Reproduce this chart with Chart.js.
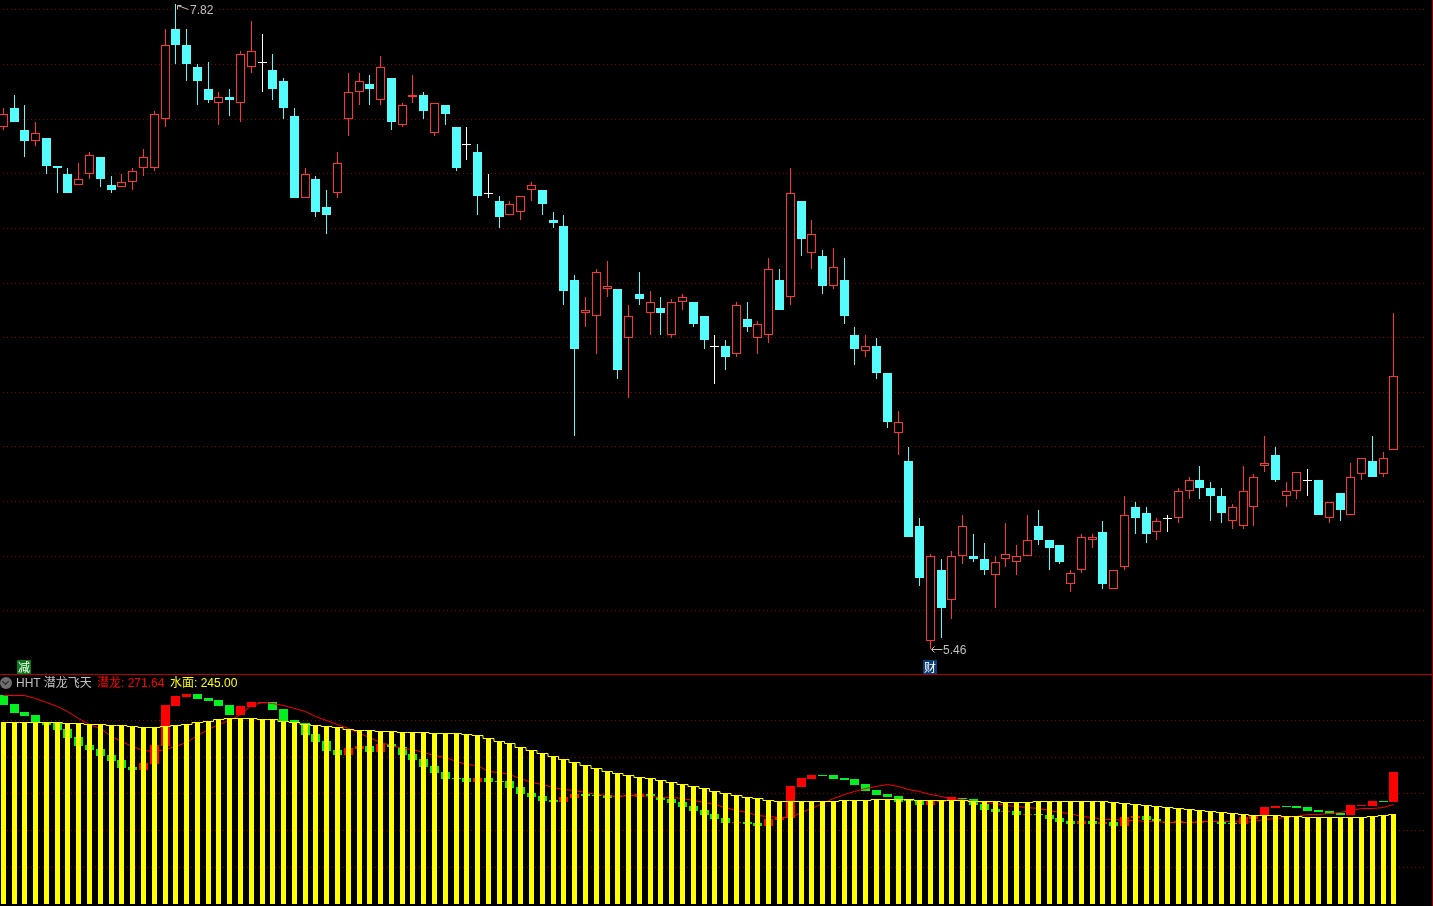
<!DOCTYPE html>
<html>
<head>
<meta charset="utf-8">
<title>HHT 潜龙飞天</title>
<script src="https://cdn.jsdelivr.net/npm/chart.js@4/dist/chart.umd.min.js"></script>
<style>
html,body{margin:0;padding:0;background:#000;width:1433px;height:906px;overflow:hidden}
#page{position:relative;width:1433px;height:906px;background:#000;font:12px "Liberation Sans","Noto Sans CJK SC",sans-serif}
canvas{position:absolute;left:0;display:block}
#top{top:0}
#bottom{top:675px}
#hline{position:absolute;left:0;top:674px;width:1433px;height:1px;background:#b40000}
#vline{position:absolute;left:1432px;top:0;width:1px;height:906px;background:#8c0000}
.t{position:absolute;white-space:pre;line-height:14px}
.badge{position:absolute;width:14px;height:14px;line-height:14px;text-align:center;color:#fff;font:12px/14px "Noto Sans CJK SC",sans-serif}
#icon{position:absolute;left:0;top:677px;width:12px;height:12px;border-radius:50%;background:#6e6e6e}
#icon:after{content:"";position:absolute;left:3px;top:2px;width:4px;height:4px;border-right:1.5px solid #222;border-bottom:1.5px solid #222;transform:rotate(45deg)}
</style>
</head>
<body>
<div id="page">
<canvas id="top" width="1433" height="674"></canvas>
<canvas id="bottom" width="1433" height="231"></canvas>
<div id="hline"></div>
<div id="vline"></div>
<div class="badge" style="left:17px;top:660px;background:#0a7a14">减</div>
<div class="badge" style="left:923px;top:660px;background:#0a3d78">财</div>
<div id="icon"></div>
<div class="t" style="left:16px;top:676px;color:#c0c0c0">HHT 潜龙飞天</div>
<div class="t" style="left:97px;top:676px;color:#ff0000">潜龙: 271.64</div>
<div class="t" style="left:170px;top:676px;color:#ffff00">水面: 245.00</div>
</div>
<script>
const priceOpen = [7.37,7.44,7.36,7.32,7.33,7.23,7.20,7.16,7.20,7.26,7.16,7.15,7.17,7.22,7.22,7.40,7.73,7.67,7.59,7.51,7.46,7.48,7.46,7.59,7.61,7.58,7.54,7.41,7.11,7.18,7.08,7.13,7.40,7.50,7.53,7.47,7.55,7.38,7.48,7.49,7.35,7.45,7.37,7.31,7.28,7.13,7.10,7.05,7.06,7.14,7.14,7.03,7.01,6.81,6.69,6.68,6.78,6.78,6.60,6.76,6.69,6.71,6.61,6.73,6.73,6.68,6.57,6.57,6.54,6.67,6.60,6.61,6.81,6.75,7.10,6.91,6.90,6.79,6.81,6.61,6.55,6.57,6.47,6.25,6.15,5.91,5.49,5.75,5.64,5.80,5.80,5.79,5.73,5.79,5.78,5.80,5.91,5.86,5.84,5.70,5.75,5.86,5.89,5.68,5.76,5.98,5.96,5.89,5.94,5.94,6.04,6.08,6.05,6.02,5.93,5.91,5.98,6.13,6.17,6.02,6.04,6.08,6.08,5.94,6.03,5.95,6.10,6.15,6.10,6.19];
const priceHigh = [7.44,7.49,7.45,7.39,7.33,7.23,7.22,7.24,7.28,7.26,7.19,7.20,7.22,7.29,7.43,7.73,7.82,7.73,7.60,7.61,7.50,7.51,7.65,7.76,7.71,7.64,7.55,7.44,7.22,7.19,7.14,7.28,7.57,7.57,7.56,7.63,7.55,7.46,7.56,7.50,7.46,7.45,7.37,7.37,7.31,7.20,7.12,7.10,7.12,7.17,7.14,7.06,7.05,6.83,6.75,6.85,6.88,6.78,6.72,6.84,6.77,6.75,6.74,6.76,6.73,6.68,6.61,6.59,6.73,6.73,6.66,6.89,6.85,7.22,7.10,7.03,6.92,6.93,6.89,6.64,6.61,6.60,6.47,6.33,6.20,5.94,5.81,5.79,5.82,5.95,5.88,5.85,5.80,5.92,5.84,5.95,5.97,5.86,5.84,5.75,5.88,5.88,5.93,5.75,6.02,6.00,5.98,5.94,5.95,6.05,6.09,6.13,6.07,6.05,5.99,6.13,6.10,6.24,6.20,6.07,6.11,6.12,6.08,6.00,6.03,6.14,6.16,6.24,6.18,6.69];
const priceLow = [7.36,7.39,7.26,7.30,7.20,7.13,7.13,7.16,7.18,7.15,7.13,7.15,7.14,7.19,7.21,7.37,7.60,7.54,7.45,7.46,7.38,7.41,7.39,7.57,7.50,7.47,7.40,7.11,7.11,7.04,6.98,7.11,7.34,7.45,7.45,7.45,7.36,7.37,7.46,7.40,7.34,7.38,7.21,7.25,7.05,7.11,7.00,7.05,7.03,7.10,7.05,7.00,6.72,6.24,6.64,6.54,6.75,6.45,6.38,6.72,6.61,6.61,6.60,6.70,6.64,6.56,6.43,6.48,6.53,6.62,6.54,6.58,6.70,6.72,6.90,6.85,6.76,6.78,6.65,6.50,6.53,6.45,6.27,6.17,5.87,5.69,5.46,5.50,5.57,5.77,5.78,5.73,5.61,5.76,5.73,5.80,5.84,5.75,5.77,5.67,5.74,5.83,5.68,5.68,5.75,5.88,5.85,5.86,5.89,5.92,6.01,6.01,5.93,5.92,5.90,5.90,5.91,6.11,6.07,5.98,6.01,6.02,5.95,5.92,5.93,5.95,6.08,6.09,6.09,6.19];
const priceClose = [7.42,7.39,7.32,7.35,7.23,7.22,7.13,7.18,7.27,7.18,7.14,7.17,7.21,7.26,7.42,7.67,7.67,7.60,7.54,7.47,7.48,7.47,7.64,7.65,7.61,7.51,7.44,7.11,7.20,7.06,7.05,7.24,7.50,7.54,7.51,7.59,7.39,7.45,7.49,7.43,7.46,7.42,7.22,7.31,7.12,7.13,7.04,7.09,7.12,7.16,7.09,7.02,6.77,6.56,6.70,6.84,6.79,6.48,6.68,6.74,6.73,6.69,6.73,6.75,6.65,6.59,6.57,6.53,6.72,6.64,6.65,6.85,6.70,7.13,6.96,6.98,6.79,6.86,6.68,6.56,6.57,6.47,6.29,6.29,5.87,5.72,5.80,5.61,5.80,5.91,5.79,5.75,5.78,5.81,5.80,5.86,5.86,5.83,5.78,5.74,5.87,5.87,5.70,5.75,5.95,5.94,5.88,5.93,5.94,6.04,6.08,6.05,6.02,5.96,5.98,6.04,6.09,6.14,6.08,6.04,6.11,6.08,5.95,6.00,5.97,6.09,6.16,6.09,6.16,6.46];

const waterLevel = [303.0,303.0,303.0,303.0,302.8,302.8,302.3,302.1,301.5,301.5,300.9,300.9,300.4,299.6,299.6,300.2,301.1,301.7,303.0,303.8,304.8,305.2,305.2,305.2,304.6,304.6,303.8,302.8,301.9,300.9,300.2,299.6,298.3,297.7,297.7,297.1,297.1,296.4,296.4,296.4,295.8,295.8,295.8,295.2,294.6,293.1,291.2,289.5,287.4,285.3,283.6,281.8,279.7,278.0,276.1,274.0,272.3,270.8,269.6,268.3,267.7,266.4,265.2,263.9,262.6,261.4,259.5,258.2,257.0,255.7,254.9,253.8,253.0,253.0,253.0,253.0,253.0,253.0,253.6,253.6,253.6,254.2,254.2,254.2,254.2,253.6,253.6,253.6,253.6,253.6,253.0,253.0,253.0,252.3,252.3,252.3,253.0,253.0,253.0,253.0,253.0,253.0,253.0,252.3,251.7,251.1,250.5,249.8,249.2,248.6,247.9,247.3,246.7,246.0,245.4,244.8,244.2,244.2,244.2,243.5,243.5,242.9,242.9,242.9,242.9,242.9,242.9,243.5,244.2,245.0];
const dragonOpen = [319.8,314.3,309.3,307.4,303.0,302.1,298.6,293.5,288.5,286.0,282.2,279.0,274.6,272.7,276.5,287.8,313.0,318.7,320.6,318.1,316.8,313.7,307.4,312.4,315.2,315.6,311.1,304.2,302.1,295.4,291.0,285.3,282.2,286.0,287.8,284.1,289.1,287.4,282.8,279.6,275.2,271.5,267.5,267.7,265.2,267.7,265.6,265.8,262.0,258.2,256.3,253.8,252.6,255.1,257.6,256.8,256.8,256.1,256.1,255.7,257.6,255.7,254.5,252.6,250.0,247.5,245.0,242.5,239.5,239.9,239.3,237.4,241.2,242.7,262.0,267.1,269.6,269.6,267.7,267.1,263.9,260.1,257.6,256.3,253.8,253.2,250.7,253.0,253.6,254.9,254.2,251.3,248.2,246.3,246.9,244.4,245.0,244.4,242.5,240.6,238.7,240.6,238.7,239.9,237.4,242.5,243.7,241.8,240.2,239.5,239.5,240.0,239.9,240.6,239.3,238.7,241.8,243.7,248.8,250.0,250.0,249.4,247.5,246.7,245.6,244.4,250.0,250.0,253.2,252.6];
const dragonClose = [313.7,308.6,306.7,303.0,301.1,297.9,292.9,287.8,285.3,281.5,278.4,274.0,272.7,277.1,288.5,313.7,319.3,320.6,317.4,316.2,313.0,307.4,313.0,315.6,315.6,310.5,303.8,302.1,294.8,290.4,284.7,282.2,286.6,287.8,284.1,289.1,287.2,282.2,279.0,274.6,270.8,267.0,267.0,265.2,267.7,265.2,265.2,261.4,257.6,255.7,253.2,252.6,255.7,257.6,256.3,256.3,255.1,256.5,256.8,257.6,256.3,253.8,251.9,249.4,246.9,244.4,241.8,239.3,239.9,238.7,237.4,241.8,243.1,262.6,267.7,269.6,269.1,267.1,266.4,263.3,259.5,257.0,255.7,252.6,253.2,250.7,253.2,253.4,255.7,254.2,250.7,247.5,246.3,246.7,244.4,244.8,244.4,241.8,239.9,238.7,240.4,238.7,239.9,237.4,243.1,243.7,241.2,240.6,239.3,240.4,240.2,240.2,240.4,238.7,238.7,243.1,244.2,249.4,250.0,249.4,248.8,246.9,246.3,245.0,244.4,250.7,250.5,253.2,252.6,271.64];
const dragonAverage = [319.8,319.8,319.8,317.9,315.6,313.0,310.1,305.7,301.9,299.2,294.2,290.8,288.1,285.1,284.7,285.7,287.8,290.6,294.8,298.3,301.9,304.4,308.0,313.7,315.3,315.1,313.7,311.8,309.9,306.7,304.2,301.7,299.2,296.0,293.3,290.1,288.3,286.8,286.0,284.1,282.4,281.1,278.4,276.5,275.7,272.3,271.3,270.0,267.7,265.2,263.7,262.2,260.9,259.9,258.9,257.8,257.0,256.1,256.8,256.8,256.1,255.7,255.5,255.3,253.8,252.8,251.3,249.2,247.5,246.5,244.6,243.7,243.1,243.3,246.0,248.6,251.7,254.9,257.6,259.7,261.6,262.8,263.7,262.8,260.9,259.3,257.6,256.3,255.3,254.2,253.2,252.3,251.7,250.9,250.2,249.4,248.8,247.5,246.3,245.4,243.7,242.9,242.1,241.6,241.2,241.0,240.6,240.4,240.2,240.2,240.2,240.4,240.4,240.8,240.4,239.9,240.6,241.6,242.3,243.3,243.9,244.8,245.2,245.8,246.3,247.5,248.6,248.8,249.2,251.1];

const priceGrid = [7.8,7.6,7.4,7.2,7.0,6.8,6.6,6.4,6.2,6.0,5.8,5.6];
const lowerGrid = [304.0,280.9,257.8,234.7,211.6];
const waterBase = 188.3;

const RED = '#ff3232', CYAN = '#54fcfc', WHITE = '#ffffff';
const BAR_RED = '#ff0000', BAR_GREEN = '#00f020', YELLOW = '#ffff00';
const GRID = '#840000';

const indices = priceOpen.map((_, i) => i);
const isUp = i => priceClose[i] > priceOpen[i];
const isDown = i => priceClose[i] < priceOpen[i];
const isFlat = i => priceClose[i] === priceOpen[i];
const pick = (test, make) => indices.filter(test).map(make);
const wick = i => ({x: i, y: [priceLow[i], priceHigh[i]]});
const body = i => ({x: i, y: [priceOpen[i], priceClose[i]]});

// Aligns the elements the library has placed onto whole pixels, as in the terminal's aliased drawing.
const snapPlugin = {
  id: 'snap',
  afterDatasetsUpdate(chart) {
    chart.data.datasets.forEach((ds, d) => {
      const meta = chart.getDatasetMeta(d);
      meta.data.forEach(el => {
        if (meta.type === 'bar') {
          const left = Math.round(el.x - el.width / 2);
          el.x = left + el.width / 2;
          const top = Math.round(Math.min(el.y, el.base));
          let bot = Math.round(Math.max(el.y, el.base));
          if (bot <= top) bot = top + 1;
          el.y = top; el.base = bot; el.height = bot - top;
        } else {
          el.x = Math.round(el.x - 0.5) + 0.5;
          el.y = Math.round(el.y) + 0.5;
        }
      });
    });
  }
};

// Marks the highest and lowest price with the terminal's small arrows and labels.
const extremesPlugin = {
  id: 'extremes',
  afterDatasetsDraw(chart) {
    const {ctx, scales: {x, y}} = chart;
    const hi = Math.max(...priceHigh), lo = Math.min(...priceLow);
    const hx = Math.round(x.getPixelForValue(priceHigh.indexOf(hi))), hy = Math.round(y.getPixelForValue(hi));
    const lx = Math.round(x.getPixelForValue(priceLow.indexOf(lo))), ly = Math.round(y.getPixelForValue(lo));
    ctx.save();
    ctx.strokeStyle = '#c0c0c0'; ctx.fillStyle = '#c0c0c0'; ctx.lineWidth = 1;
    ctx.beginPath();
    ctx.moveTo(hx + 1.5, hy + 1.5); ctx.lineTo(hx + 5.5, hy + 1.5);
    ctx.moveTo(hx + 1.5, hy + 1.5); ctx.lineTo(hx + 1.5, hy + 5.5);
    ctx.moveTo(hx + 1.5, hy + 1.5); ctx.lineTo(hx + 12.5, hy + 5.5);
    ctx.moveTo(lx + 1.5, ly + 0.5); ctx.lineTo(lx + 12.5, ly + 0.5);
    ctx.moveTo(lx + 4.5, ly - 2.5); ctx.lineTo(lx + 1.5, ly + 0.5); ctx.lineTo(lx + 4.5, ly + 3.5);
    ctx.stroke();
    ctx.font = '12px "Liberation Sans", sans-serif';
    ctx.textBaseline = 'middle'; ctx.textAlign = 'left';
    ctx.fillText(hi.toFixed(2), hx + 14, hy + 7);
    ctx.fillText(lo.toFixed(2), lx + 13, ly + 2);
    ctx.restore();
  }
};

const baseOptions = (yMin, yMax, gridList) => ({
  responsive: false,
  animation: false,
  events: [],
  layout: {padding: {left: 3, right: 7, top: 0, bottom: 0}},
  plugins: {legend: {display: false}, tooltip: {enabled: false}, title: {display: false}},
  scales: {
    x: {type: 'linear', display: false, offset: false, min: -0.028, max: 131.97},
    y: {
      type: 'linear', min: yMin, max: yMax,
      afterFit: s => { s.width = 0; },
      afterBuildTicks: s => { s.ticks = gridList.map(v => ({value: v})); },
      ticks: {display: false},
      grid: {color: GRID, lineWidth: 1, drawTicks: false},
      border: {display: false, dash: [1, 3]}
    }
  }
});

const barSet = (data, thickness, color, order, extra) => Object.assign({
  type: 'bar', data, barThickness: thickness, backgroundColor: color,
  borderWidth: 0, borderSkipped: false, inflateAmount: 0, grouped: false, clip: false, order
}, extra || {});

new Chart(document.getElementById('top'), {
  type: 'bar',
  data: {datasets: [
    barSet(pick(isUp, wick), 1, RED, 1),
    barSet(pick(isDown, wick), 1, CYAN, 1),
    barSet(pick(isFlat, wick), 1, WHITE, 1),
    barSet(pick(isUp, body), 9, '#000000', 0, {borderWidth: 1, borderColor: RED}),
    barSet(pick(isDown, body), 9, CYAN, 0),
    barSet(pick(isFlat, body), 9, WHITE, 0)
  ]},
  options: baseOptions(5.369, 7.836, priceGrid),
  plugins: [snapPlugin, extremesPlugin]
});

new Chart(document.getElementById('bottom'), {
  type: 'bar',
  data: {datasets: [
    {type: 'line', data: indices.map(i => ({x: i, y: waterLevel[i]})), stepped: 'middle',
     borderColor: YELLOW, borderWidth: 1, pointRadius: 0, fill: false, clip: false, order: 0},
    barSet(indices.map(i => ({x: i, y: [waterBase, waterLevel[i]]})), 5, YELLOW, 1),
    {type: 'line', data: indices.map(i => ({x: i, y: dragonAverage[i]})),
     borderColor: BAR_RED, borderWidth: 1, pointRadius: 0, tension: 0, fill: false, clip: false, order: 2},
    barSet(indices.map(i => ({x: i, y: [dragonOpen[i], dragonClose[i]]})), 9,
      indices.map(i => dragonClose[i] >= dragonOpen[i] ? BAR_RED : BAR_GREEN), 3)
  ]},
  options: baseOptions(187.04, 332.57, lowerGrid),
  plugins: [snapPlugin]
});
</script>
</body>
</html>
